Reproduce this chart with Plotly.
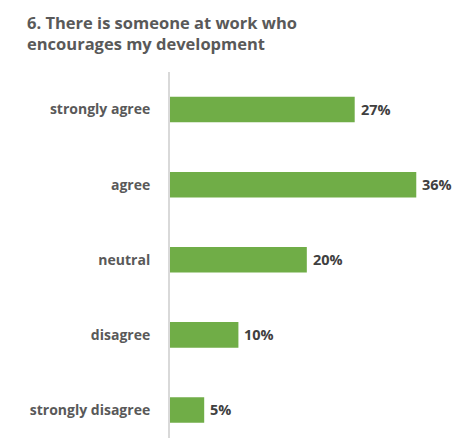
import plotly.graph_objects as go

# Survey item 6: responses and their share of respondents (%)
categories = ["strongly agree", "agree", "neutral", "disagree", "strongly disagree"]
shares = [27, 36, 20, 10, 5]
labels = [f"{v}%" for v in shares]

W, H = 474, 438
FONT = "'Open Sans', sans-serif"
GREEN = "#70AD47"

fig = go.Figure(
    go.Bar(
        x=shares,
        y=categories,
        orientation="h",
        marker=dict(color=GREEN, line=dict(width=0)),
        width=0.34,
        hoverinfo="skip",
    )
)

# value labels just to the right of each bar
for cat, val, lab in zip(categories, shares, labels):
    fig.add_annotation(
        x=val, y=cat, text=f"<b>{lab}</b>", showarrow=False,
        xanchor="left", yanchor="middle", xshift=4,
        font=dict(family=FONT, size=14.5, color="#404040"),
    )

fig.update_layout(
    width=W, height=H,
    margin=dict(l=170, r=3, t=72, b=0),
    paper_bgcolor="white", plot_bgcolor="white",
    showlegend=False,
    title=dict(
        text="<b>6. There is someone at work who<br>encourages my development</b>",
        x=27 / W, xanchor="left", xref="container",
        y=1 - 29 / H, yanchor="middle", yref="container",
        font=dict(family=FONT, size=16.5, color="#595959"),
    ),
    xaxis=dict(
        range=[0, 44], showgrid=False, zeroline=False,
        showticklabels=False, showline=False, fixedrange=True,
    ),
    yaxis=dict(
        type="category", categoryorder="array", categoryarray=categories,
        range=[4.373, -0.5], showgrid=False, zeroline=False,
        showline=True, linecolor="#D9D9D9", linewidth=2,
        ticks="", ticklabelstandoff=15,
        tickfont=dict(family=FONT, size=14, color="#595959"),
        fixedrange=True,
    ),
)
fig.update_yaxes(tickprefix="<b>", ticksuffix="</b>")

fig.write_html("out.html")
